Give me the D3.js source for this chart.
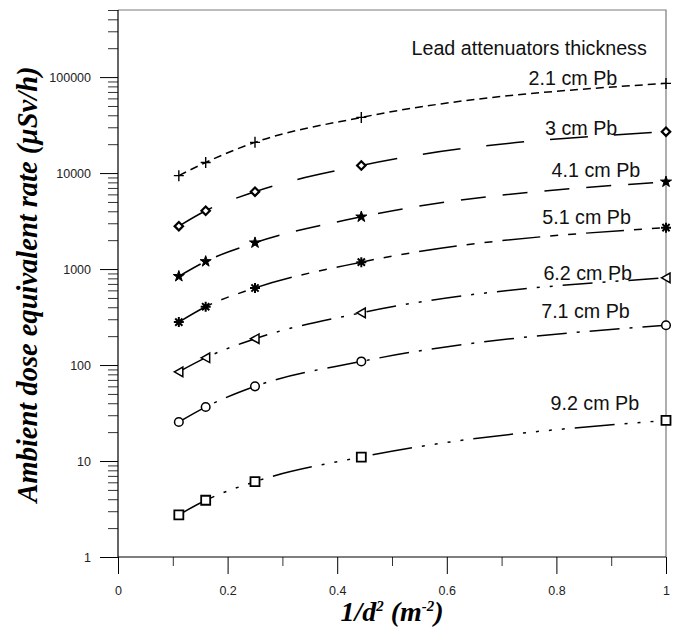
<!DOCTYPE html>
<html>
<head>
<meta charset="utf-8">
<script src="https://cdn.jsdelivr.net/npm/d3@7"></script>
<style>
  body { margin: 0; background: #fff; }
  svg { display: block; }
  .note { font-family: "Liberation Sans", Arial, sans-serif; font-size: 19.7px; fill: #111; }
  .title { font-family: "Liberation Serif", "Times New Roman", serif; font-weight: bold; font-style: italic; fill: #000; }
</style>
</head>
<body>
<div id="chart"></div>
<script>
// distances d = 3, 2.5, 2, 1.5, 1 m  ->  1/d^2
const invD2 = [0.111, 0.16, 0.25, 0.444, 1];

// dose rates (uSv/h) per lead thickness
const pb21 = [9400, 12900, 20900, 38000, 86000];
const pb3  = [2800, 4050, 6400, 12000, 27000];
const pb41 = [840, 1200, 1880, 3500, 8100];
const pb51 = [280, 405, 635, 1180, 2700];
const pb62 = [85, 119, 188, 350, 810];
const pb71 = [25.5, 36.5, 60, 109, 260];
const pb92 = [2.75, 3.9, 6.1, 11, 26.5];

const seriesNames = ["2.1 cm Pb", "3 cm Pb", "4.1 cm Pb", "5.1 cm Pb", "6.2 cm Pb", "7.1 cm Pb", "9.2 cm Pb"];
// label anchors (end of text) in data units
const labelX = [0.911, 0.911, 0.953, 0.936, 0.938, 0.934, 0.951];
const labelY = [83500, 25100, 9170, 2970, 773, 310, 34.1];

const xMajor = [0, 0.2, 0.4, 0.6, 0.8, 1];
const xMinor = [0.1, 0.3, 0.5, 0.7, 0.9];
const yMajor = [1, 10, 100, 1000, 10000, 100000];

const width = 680, height = 629;
const margin = { top: 10, right: 14, bottom: 72, left: 118 };

const svg = d3.select("#chart").append("svg")
  .attr("width", width)
  .attr("height", height);

const x = d3.scaleLinear().domain([0, 1]).range([margin.left, width - margin.right]);
const y = d3.scaleLog().domain([1, 500000]).range([height - margin.bottom, margin.top]);

const [x0, x1] = x.range();
const [yb, yt] = y.range();

// minor log ticks (2..9 each decade)
const yMinor = [];
for (let e = 0; e < 6; e++) {
  for (let m = 2; m <= 9; m++) {
    const v = m * Math.pow(10, e);
    if (v <= 500000) yMinor.push(v);
  }
}

function styleTicks(g) {
  g.select(".domain").remove();
  g.selectAll("text")
    .style("font-family", '"Liberation Sans", Arial, sans-serif')
    .style("font-size", "12.5px")
    .attr("fill", "#222");
}

// frame (top and right, grey)
svg.append("path")
  .attr("d", `M${x0},${yt}H${x1}V${yb}`)
  .attr("fill", "none")
  .attr("stroke", "#7a7a7a")
  .attr("stroke-width", 1.2);

// y axis
svg.append("g")
  .attr("transform", `translate(${x0},0)`)
  .call(d3.axisLeft(y).tickValues(yMinor).tickSize(10).tickFormat(""))
  .call(styleTicks)
  .selectAll("line").attr("stroke", "#333");

svg.append("g")
  .attr("transform", `translate(${x0},0)`)
  .call(d3.axisLeft(y).tickValues(yMajor).tickSize(18).tickPadding(9).tickFormat(d3.format("d")))
  .call(styleTicks)
  .call(g => g.selectAll("line").attr("stroke", "#000"));

// x axis
svg.append("g")
  .attr("transform", `translate(0,${yb})`)
  .call(d3.axisBottom(x).tickValues(xMinor).tickSize(9).tickFormat(""))
  .call(styleTicks)
  .selectAll("line").attr("stroke", "#333");

svg.append("g")
  .attr("transform", `translate(0,${yb})`)
  .call(d3.axisBottom(x).tickValues(xMajor).tickSize(17).tickPadding(12).tickFormat(d3.format("")))
  .call(styleTicks)
  .call(g => g.selectAll("line").attr("stroke", "#000"));

// axis lines
svg.append("path")
  .attr("d", `M${x0},${yt}V${yb}H${x1}`)
  .attr("fill", "none")
  .attr("stroke", "#000")
  .attr("stroke-width", 1.2);

// curves
const series = [pb21, pb3, pb41, pb51, pb62, pb71, pb92];
const dashes = [
  "8,5",
  "38,26",
  "25,17",
  "38,10,8,10,8,10",
  "30,10,3,10,3,10",
  "30,10,3,10",
  "40,10,3,10,3,10,3,10,3,10"
];

const line = d3.line()
  .x((d, i) => x(invD2[i]))
  .y(d => y(d))
  .curve(d3.curveMonotoneX);

svg.append("g")
  .selectAll("path")
  .data(series)
  .join("path")
  .attr("d", d => line(d))
  .attr("fill", "none")
  .attr("stroke", "#000")
  .attr("stroke-width", 1.5)
  .attr("stroke-dasharray", (d, i) => dashes[i]);

// marker shapes
const markerPaths = [
  "M-5,0H5M0,-5.5V5.5",                                   // plus
  "M0,-4.2L4.2,0L0,4.2L-4.2,0Z",                          // diamond
  d3.symbol(d3.symbolStar, 38)(),                         // star
  "M-5,0H5M0,-5V5M-3.6,-3.6L3.6,3.6M-3.6,3.6L3.6,-3.6",   // asterisk
  "M-4.5,0L4,-4.8L4,4.8Z",                                // triangle left
  d3.symbol(d3.symbolCircle, 58)(),                       // circle
  "M-4.5,-4.5H4.5V4.5H-4.5Z"                              // square
];
const markerFill = ["none", "#fff", "#000", "none", "#fff", "#fff", "#fff"];
const markerStroke = [1.4, 2.2, 1, 2, 1.5, 1.5, 1.8];

series.forEach((vals, s) => {
  svg.append("g")
    .selectAll("path")
    .data(vals)
    .join("path")
    .attr("transform", (d, i) => `translate(${x(invD2[i])},${y(d)})`)
    .attr("d", markerPaths[s])
    .attr("fill", markerFill[s])
    .attr("stroke", "#000")
    .attr("stroke-width", markerStroke[s]);
});

// labels
svg.append("text")
  .attr("class", "note")
  .attr("x", x(0.965))
  .attr("y", y(171700))
  .attr("text-anchor", "end")
  .text("Lead attenuators thickness");

svg.append("g")
  .selectAll("text")
  .data(seriesNames)
  .join("text")
  .attr("class", "note")
  .attr("x", (d, i) => x(labelX[i]))
  .attr("y", (d, i) => y(labelY[i]))
  .attr("text-anchor", "end")
  .text(d => d);

// axis titles
svg.append("text")
  .attr("class", "title")
  .attr("transform", `translate(37,${(yt + yb) / 2 + 1}) rotate(-90)`)
  .attr("text-anchor", "middle")
  .style("font-size", "28.5px")
  .text("Ambient dose equivalent rate (\u00b5Sv/h)");

const xt = svg.append("text")
  .attr("class", "title")
  .attr("x", (x0 + x1) / 2)
  .attr("y", 621)
  .attr("text-anchor", "middle")
  .style("font-size", "28px");
xt.append("tspan").text("1/d");
xt.append("tspan").attr("dy", -10).style("font-size", "15px").text("2");
xt.append("tspan").attr("dy", 10).text(" (m");
xt.append("tspan").attr("dy", -10).style("font-size", "15px").text("-2");
xt.append("tspan").attr("dy", 10).text(")");
</script>
</body>
</html>
